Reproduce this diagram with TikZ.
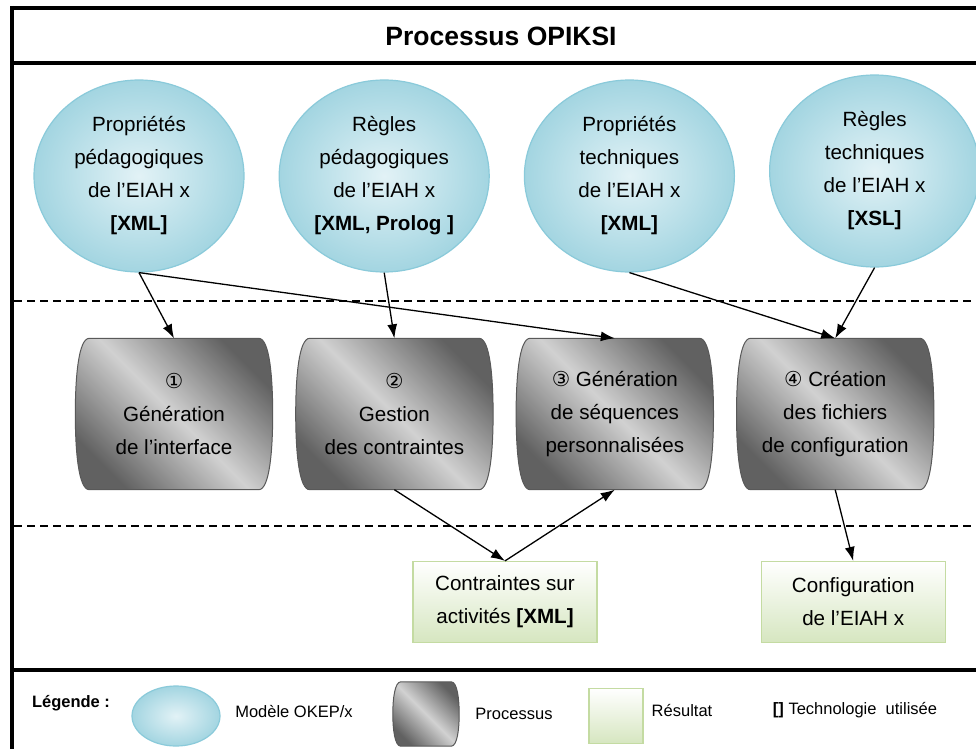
\documentclass[tikz,border=0pt]{standalone}
\usepackage{fontspec}
\setmainfont{Liberation Sans}
\newfontfamily\circfont{DejaVu Sans}
\usepackage{tikz}
\usetikzlibrary{arrows.meta, positioning, shapes.geometric, backgrounds}
\usepackage{xcolor}

\definecolor{modelfill}{HTML}{A3D5E1}
\definecolor{modelcore}{HTML}{E2F2F6}
\definecolor{modelline}{HTML}{8ACADA}
\definecolor{resline}{HTML}{C4DBA2}
\definecolor{resfill}{HTML}{D6E6C0}

\begin{document}
\begin{tikzpicture}[
      x=1pt, y=-1pt,
      font=\fontsize{20.6pt}{33pt}\selectfont,
      model/.style={ellipse, draw=modelline, line width=1.2pt,
        inner color=modelcore, outer color=modelfill,
        minimum width=210pt, minimum height=192pt, inner sep=0pt, align=center},
      proc/.style={rectangle, minimum width=197pt, minimum height=151pt,
        inner sep=0pt, align=center},
      procfill/.style={draw=black!65, line width=1pt, top color=black!62,
        bottom color=black!62, middle color=black!18, shading angle=-45},
      result/.style={rectangle, draw=resline, line width=1.2pt,
        top color=white, bottom color=resfill,
        minimum width=184pt, minimum height=81pt, align=center},
      arr/.style={-{Latex[length=14pt, width=10pt]}, line width=1.3pt},
      frame/.style={line width=3.5pt},
      lane/.style={line width=1.3pt, dash pattern=on 8pt off 5pt},
      legend/.style={font=\fontsize{16.5pt}{20pt}\selectfont, inner sep=0pt}
    ]
    \useasboundingbox (0,0) rectangle (976,749);

    \draw[frame] (10,8) -- (976,8);
    \draw[frame] (12,6) -- (12,749);
    \draw[frame] (12,63) -- (976,63);
    \draw[frame] (12,670) -- (976,670);
    \draw[lane] (14,301) -- (976,301);
    \draw[lane] (14,526) -- (976,526);

    \node[font=\fontsize{26.5pt}{30pt}\selectfont\bfseries] (title) at (501,36) {Processus OPIKSI};

    \node[model] (propped) at (139,176) {Propriétés\\pédagogiques\\de l’EIAH x\\\textbf{[XML]}};
    \node[model, right=34pt of propped] (regped) {Règles\\pédagogiques\\de l’EIAH x\\\textbf{[XML, Prolog ]}};
    \node[model, right=34pt of regped] (techprop) {Propriétés\\techniques\\de l’EIAH x\\\textbf{[XML]}};
    \node[model, right=34pt of techprop, yshift=5pt] (regtech) {Règles\\techniques\\de l’EIAH x\\\textbf{[XSL]}};

    \node[proc] (gen) at (174,414) {{\circfont ①}\\Génération\\de l’interface};
    \node[proc, right=23pt of gen] (gest) {{\circfont ②}\\Gestion\\des contraintes};
    \node[proc, right=23pt of gest] (seq) {{\circfont ③} Génération\\de séquences\\personnalisées};
    \node[proc, right=23pt of seq] (conf) {{\circfont ④} Création\\des fichiers\\de configuration};

    \node[result] (contr) at (505,602) {Contraintes sur\\activités \textbf{[XML]}};
    \node[result, right=163pt of contr] (config) {Configuration\\de l’EIAH x};

    \draw[arr] (propped.south) -- (gen.north);
    \draw[arr] (propped.south) -- (seq.north);
    \draw[arr] (regped.south) -- (gest.north);
    \draw[arr] (techprop.south) -- (conf.north);
    \draw[arr] (regtech.south) -- (conf.north);
    \draw[arr] (gest.south) -- (contr.north);
    \draw[arr] (contr.north) -- (seq.south);
    \draw[arr] (conf.south) -- (config.north);

    \node[legend, font=\fontsize{16.5pt}{20pt}\selectfont\bfseries] (legtitle) at (71,703) {Légende :};
    \node[model, minimum width=88pt, minimum height=60pt] (legmodel) at (176,716) {};
    \node[legend] (legmodeltxt) at (294,711) {Modèle OKEP/x};
    \node[proc, minimum width=66pt, minimum height=64pt] (legproc) at (426,714) {};
    \node[legend] (legproctxt) at (514,714) {Processus};
    \node[result, minimum width=54pt, minimum height=55pt] (legres) at (616,716) {};
    \node[legend] (legrestxt) at (682,710) {Résultat};
    \node[legend] (legtech) at (855,710) {\textbf{[]} Technologie\ \ utilisée};

    \begin{scope}[on background layer]
      \fill[white] (0,0) rectangle (976,749);
      \foreach \p/\s/\c/\v in {gen/14/3/40, gest/14/3/40, seq/14/3/40, conf/14/3/40, legproc/8/2/17}
        \shade[procfill] ([xshift=\s pt]\p.north west) -- ([xshift=-\s pt]\p.north east)
          .. controls ([xshift=-\c pt]\p.north east) and ([yshift=-\v pt]\p.north east) .. (\p.east)
          .. controls ([yshift=\v pt]\p.south east) and ([xshift=-\c pt]\p.south east) .. ([xshift=-\s pt]\p.south east)
          -- ([xshift=\s pt]\p.south west)
          .. controls ([xshift=\c pt]\p.south west) and ([yshift=\v pt]\p.south west) .. (\p.west)
          .. controls ([yshift=-\v pt]\p.north west) and ([xshift=\c pt]\p.north west) .. cycle;
    \end{scope}
  \end{tikzpicture}
\end{document}
